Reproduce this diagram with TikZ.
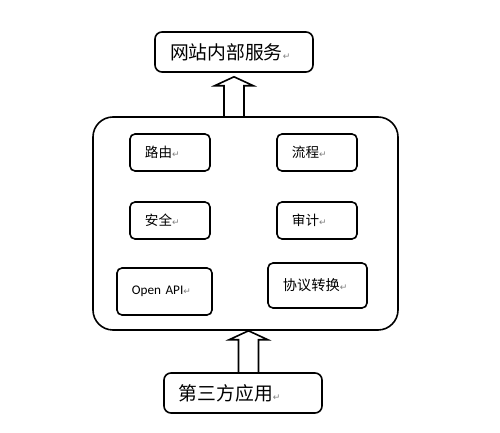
\documentclass[tikz,border=0pt]{standalone}
\usepackage{fontspec}
\setmainfont{Carlito}
\newfontfamily\cjk{Noto Sans CJK SC}
\newfontfamily\retfont{DejaVu Sans}
\usetikzlibrary{calc,positioning}
\newcommand\ret{{\retfont\color{gray}\fontsize{4.5}{5}\selectfont ↵}}
% hollow block arrow from #1 (base) up to #2 (tip)
\newcommand\blockup[2]{%
  \draw[hollow] ($(#1)+(-10,0)$) -- ($(#2)+(-10,9)$) -- ($(#2)+(-19.5,9)$) -- (#2)
    -- ($(#2)+(19.5,9)$) -- ($(#2)+(10,9)$) -- ($(#1)+(10,0)$);}

\begin{document}
\begin{tikzpicture}[x=0.5pt,y=-0.5pt,
	box/.style={draw, line width=0.8pt, rounded corners=2.5pt, align=left,
				inner xsep=7.5pt, inner ysep=0pt},
	small/.style={box, text width=25pt, minimum height=18.5pt,
				font=\cjk\fontsize{6.8}{8}\selectfont},
	wide/.style={box, rounded corners=3.5pt, text width=64pt, minimum height=20pt,
				font=\cjk\fontsize{9.4}{11}\selectfont},
	hollow/.style={draw, line width=0.8pt, line join=miter}]

	\useasboundingbox (0,0) rectangle (500,433);

	\node[wide] (site) at (234,52) {网站内部服务\ret};
	\node[draw, line width=0.8pt, rounded corners=10pt, minimum width=152.5pt,
		minimum height=106.5pt] (core) at (245.5,223.5) {};

	\node[small] (route) at (170,152.5) {路由\ret};
	\node[small, on grid, right=73.5pt of route] (flow) {流程\ret};
	\node[small, on grid, below=34pt of route] (sec) {安全\ret};
	\node[small, on grid, below=34pt of flow] (audit) {审计\ret};
	\node[box, text width=32.5pt, minimum height=23.5pt,
		font=\fontsize{6.6}{8}\selectfont] (api) at (164.5,291.5) {Open API\ret};
	\node[box, text width=34.5pt, minimum height=22.5pt,
		font=\cjk\fontsize{7.1}{8}\selectfont] (proto) at (317.5,285.5) {协议转换\ret};

	\node[wide] (app) at (243,393) {第三方应用\ret};

	\coordinate (uptip) at ($(site.south)+(0,4)$);
	\coordinate (upbase) at (uptip |- core.north);
	\coordinate (intip) at ($(core.south)+(3,0)$);
	\coordinate (inbase) at (intip |- app.north);
	\blockup{upbase}{uptip}
	\blockup{inbase}{intip}
\end{tikzpicture}
\end{document}
